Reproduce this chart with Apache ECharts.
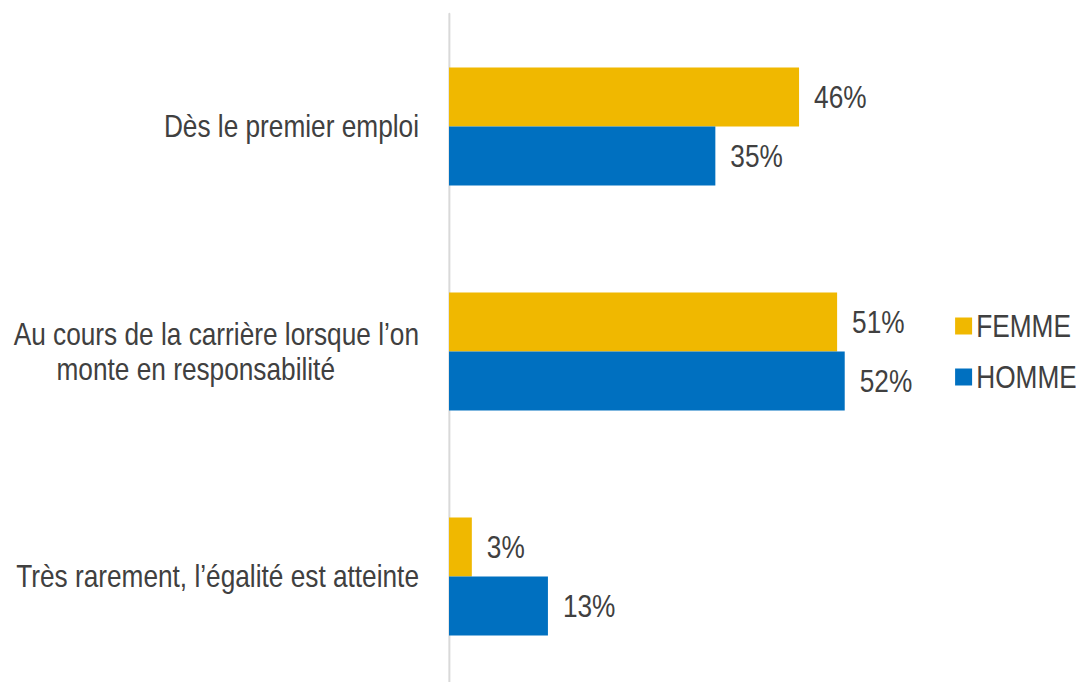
<!DOCTYPE html>
<html>
<head>
<meta charset="utf-8">
<script src="https://cdn.jsdelivr.net/npm/echarts@6/dist/echarts.min.js"></script>
<style>
html,body{margin:0;padding:0;background:#fff;overflow:hidden;width:1076px;height:682px;}
/* Arial-Narrow look: draw wider, condense horizontally */
#chart{width:1312.2px;height:682px;transform:scaleX(0.82);transform-origin:0 0;}
</style>
</head>
<body>
<div id="chart"></div>
<script>
var categories = [
  'Dès le premier emploi',
  'Au cours de la carrière lorsque l’on\nmonte en responsabilité',
  'Très rarement, l’égalité est atteinte'
];
var seriesNames = ['FEMME', 'HOMME'];
var femme = [46, 51, 3];
var homme = [35, 52, 13];

var S = 0.82;
var FONT = '"Liberation Sans", Arial, sans-serif';
var TEXT = '#404040';
var FS = 32;

var chart = echarts.init(document.getElementById('chart'), null, { renderer: 'svg' });
chart.setOption({
  animation: false,
  backgroundColor: '#ffffff',
  grid: { left: 449 / S, top: 14, height: 675, width: 7.61 * 60 / S, containLabel: false, outerBoundsMode: 'none' },
  legend: {
    orient: 'vertical',
    left: 951 / S,
    top: 305,
    itemWidth: 17 / S,
    itemHeight: 17,
    itemGap: 19,
    icon: 'rect',
    data: seriesNames,
    textStyle: { fontFamily: FONT, fontSize: FS, lineHeight: 32, color: TEXT }
  },
  xAxis: {
    type: 'value', min: 0, max: 60, show: false,
    splitLine: { show: false }
  },
  yAxis: {
    type: 'category',
    inverse: true,
    data: categories,
    axisLine: { show: true, lineStyle: { color: '#D9D9D9', width: 2 / S } },
    axisTick: { show: false },
    axisLabel: {
      margin: 30 / S,
      align: 'right',
      fontFamily: FONT,
      fontSize: FS,
      color: TEXT,
      lineHeight: 35,
      formatter: function (v) {
        var lines = v.split('\n');
        return lines.map(function (l, i) { return (i === 0 ? '{a|' : '{b|') + l + '}'; }).join('\n');
      },
      rich: {
        a: { fontFamily: FONT, fontSize: FS, color: TEXT, lineHeight: 35 },
        b: { fontFamily: FONT, fontSize: FS, color: TEXT, lineHeight: 35, padding: [0, 84 / S, 0, 0] }
      }
    }
  },
  series: [
    {
      name: 'FEMME', type: 'bar', data: femme, barWidth: 59, barGap: '0%',
      itemStyle: { color: '#F0B800' },
      label: { show: true, position: 'right', distance: 15 / S, formatter: '{c}%',
        fontFamily: FONT, fontSize: FS, color: TEXT }
    },
    {
      name: 'HOMME', type: 'bar', data: homme, barWidth: 59, barGap: '0%',
      itemStyle: { color: '#0070C0' },
      label: { show: true, position: 'right', distance: 15 / S, formatter: '{c}%',
        fontFamily: FONT, fontSize: FS, color: TEXT }
    }
  ]
});
</script>
</body>
</html>
